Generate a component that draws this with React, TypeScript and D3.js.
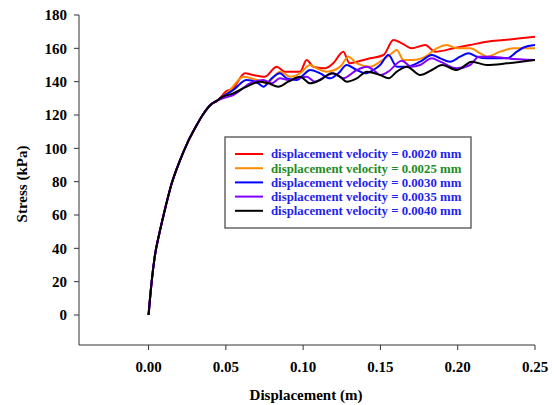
import React from 'react';
import { scaleLinear, line, curveMonotoneX, range } from 'd3';

const width = 554;
const height = 405;

// common initial rise, all five tests overlap here
const rise: [number, number][] = [
  [0, 0], [0.002, 20], [0.004, 35], [0.007, 49], [0.01, 61], [0.015, 79],
  [0.02, 92], [0.025, 103], [0.03, 112], [0.035, 120], [0.04, 126], [0.045, 129],
];

const v0020: [number, number][] = [
  [0.05, 134], [0.0546, 136], [0.0624, 145], [0.0676, 144], [0.0753, 143], [0.0829, 149],
  [0.0883, 146], [0.098, 146], [0.1023, 153], [0.1066, 149], [0.1142, 148], [0.1194, 151],
  [0.126, 158], [0.13, 151], [0.135, 152], [0.1434, 154], [0.152, 156], [0.1584, 165],
  [0.1639, 163], [0.1703, 160], [0.179, 162], [0.1854, 158], [0.1973, 160], [0.208, 162],
  [0.2189, 164], [0.2297, 165], [0.2405, 166], [0.25, 167],
];

const v0025: [number, number][] = [
  [0.048, 131], [0.0527, 135], [0.0613, 143], [0.07, 141], [0.0764, 139], [0.0851, 146],
  [0.0915, 143], [0.098, 145], [0.1045, 150], [0.1088, 148], [0.1153, 146], [0.124, 149],
  [0.1293, 155], [0.1347, 151], [0.1433, 149], [0.1498, 152], [0.1574, 157], [0.1606, 159],
  [0.1649, 153], [0.1714, 153], [0.179, 155], [0.1865, 160], [0.193, 162], [0.1995, 160],
  [0.2081, 160], [0.2146, 157], [0.2189, 155], [0.2275, 158], [0.2361, 160], [0.25, 160],
];

const v0030: [number, number][] = [
  [0.048, 131], [0.0548, 135], [0.0635, 141], [0.071, 139], [0.0742, 137], [0.0797, 142],
  [0.085, 145], [0.0894, 142], [0.0959, 141], [0.1001, 144], [0.1045, 147], [0.111, 145],
  [0.1174, 142], [0.1228, 145], [0.1282, 150], [0.1347, 147], [0.1401, 145], [0.1455, 147],
  [0.1498, 150], [0.1552, 156], [0.1606, 149], [0.1671, 149], [0.1757, 152], [0.1833, 156],
  [0.1887, 154], [0.1951, 152], [0.2016, 155], [0.207, 157], [0.2124, 155], [0.2189, 154],
  [0.2319, 154], [0.2383, 158], [0.2426, 160.5], [0.25, 162],
];

const v0035: [number, number][] = [
  [0.048, 130], [0.0548, 132], [0.0656, 139], [0.0742, 141], [0.0797, 139], [0.085, 142],
  [0.0904, 141], [0.0959, 142], [0.1023, 143], [0.1077, 140], [0.1142, 143], [0.1196, 145],
  [0.126, 142], [0.1347, 147], [0.1412, 149], [0.1455, 147], [0.15, 144], [0.155, 146],
  [0.1639, 152.5], [0.17, 149], [0.1757, 150], [0.1833, 154], [0.1887, 152], [0.1995, 148],
  [0.2081, 150], [0.2135, 155], [0.221, 155], [0.2319, 154], [0.25, 153],
];

const v0040: [number, number][] = [
  [0.0462, 130], [0.0548, 133], [0.0635, 137], [0.0721, 140], [0.0775, 139], [0.0839, 137],
  [0.0904, 140], [0.098, 143], [0.1045, 139], [0.111, 141], [0.1185, 145], [0.1239, 143],
  [0.1282, 140], [0.1347, 142], [0.1412, 146], [0.1498, 144], [0.1552, 142], [0.1606, 146],
  [0.1671, 149], [0.1757, 144], [0.1833, 147], [0.1898, 150], [0.1995, 147], [0.2092, 152],
  [0.2189, 150], [0.2319, 151], [0.25, 153],
];

const seriesNames = ['0.0020', '0.0025', '0.0030', '0.0035', '0.0040'];
const seriesData = [v0020, v0025, v0030, v0035, v0040];
const lineColors = ['#ff0000', '#ff8c00', '#0000ff', '#8000ff', '#000000'];
const textColors = ['#1f1fee', '#1e8c1e', '#1f1fee', '#1f1fee', '#1f1fee'];

const xTicks = [0, 0.05, 0.1, 0.15, 0.2, 0.25];
const yTicks = range(0, 181, 20);

const font = '"Liberation Serif", "Times New Roman", serif';

export default function App() {
  const xScale = scaleLinear().domain([-0.045, 0.25]).range([79, 535]);
  const yScale = scaleLinear().domain([-18, 180]).range([345, 15]);

  const path = line<[number, number]>()
    .x(d => xScale(d[0]))
    .y(d => yScale(d[1]))
    .curve(curveMonotoneX);

  const [x0, x1] = xScale.range();
  const [y0, y1] = yScale.range();

  return (
    <svg width={width} height={height} style={{ position: 'absolute', left: 0, top: 0 }}
      fontFamily={font} fontWeight="bold">
      <rect width={width} height={height} fill="#fff" />

      {/* curves */}
      {seriesData.map((s, i) => (
        <path key={i} d={path([...rise, ...s]) || ''} fill="none"
          stroke={lineColors[i]} strokeWidth={2} strokeLinejoin="round" />
      ))}

      {/* y axis */}
      <line x1={x0} x2={x0} y1={y1} y2={y0} stroke="#333" />
      {yTicks.map(t => (
        <g key={t} transform={`translate(0,${yScale(t)})`}>
          <line x1={x0 - 5} x2={x0} stroke="#333" />
          <text x={x0 - 12} dy="0.35em" textAnchor="end" fontSize={15}>{t}</text>
        </g>
      ))}
      <text transform={`translate(27,184) rotate(-90)`} textAnchor="middle" fontSize={15}>
        Stress (kPa)
      </text>

      {/* x axis */}
      <line x1={x0} x2={x1} y1={y0} y2={y0} stroke="#333" />
      {xTicks.map(t => (
        <g key={t} transform={`translate(${xScale(t)},0)`}>
          <line y1={y0} y2={y0 + 5} stroke="#333" />
          <text y={372} textAnchor="middle" fontSize={15}>{t.toFixed(2)}</text>
        </g>
      ))}
      <text x={306} y={400} textAnchor="middle" fontSize={15}>Displacement (m)</text>

      {/* legend */}
      <rect x={225} y={137} width={246} height={91} fill="#fff" stroke="#666" strokeWidth={1.5} />
      {seriesNames.map((n, i) => (
        <g key={n} transform={`translate(0,${154 + i * 14.2})`}>
          <line x1={235} x2={263} stroke={lineColors[i]} strokeWidth={2} />
          <text x={271} dy="0.35em" fontSize={12.8} fill={textColors[i]}>
            displacement velocity = {n} mm
          </text>
        </g>
      ))}
    </svg>
  );
}
